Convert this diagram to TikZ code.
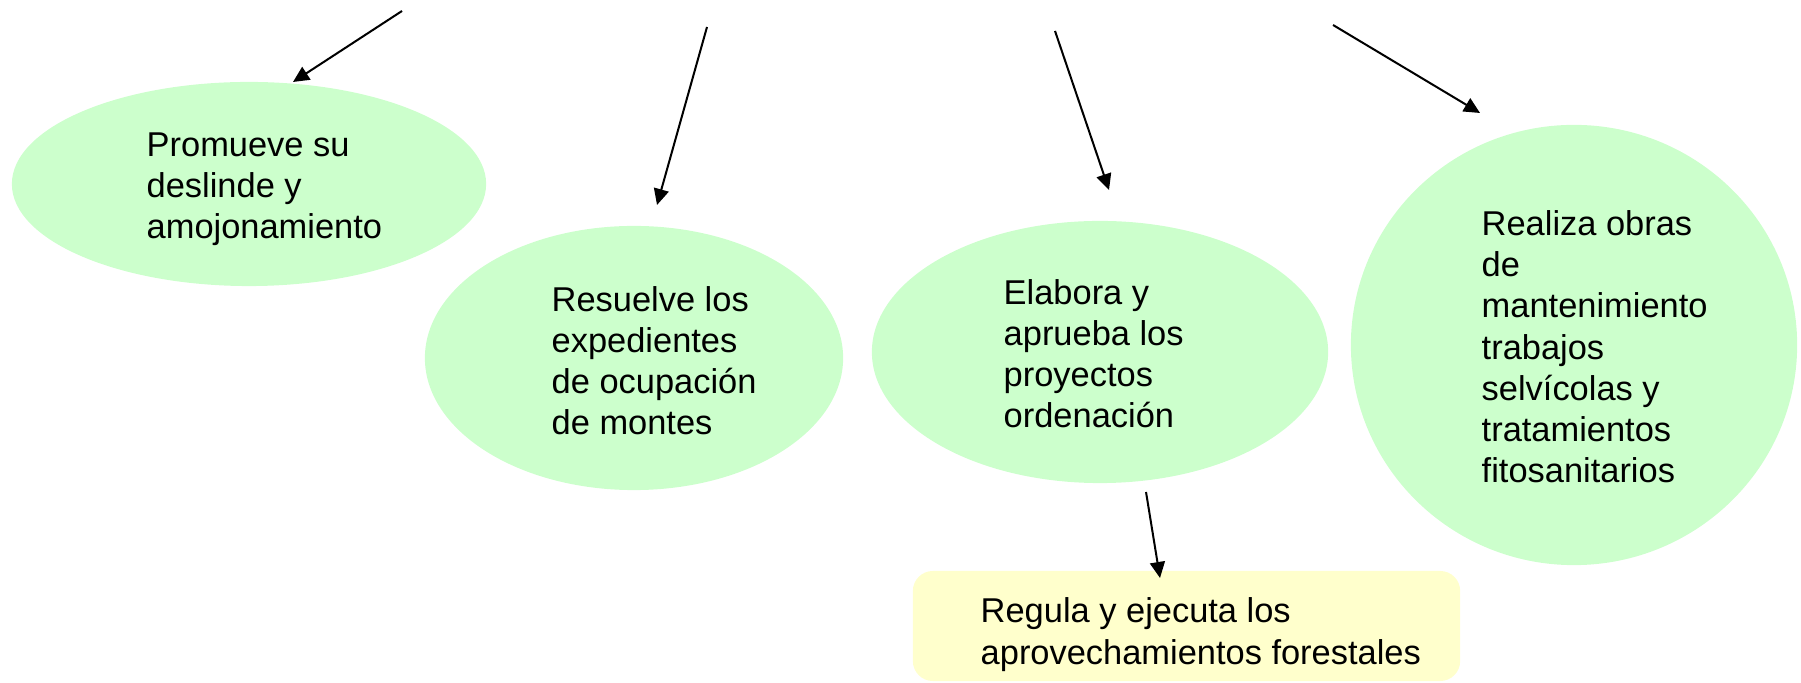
\documentclass[tikz,border=0pt]{standalone}
\usepackage{fontspec}
\setmainfont{Liberation Sans}
\usetikzlibrary{arrows.meta,shapes.geometric}
\definecolor{ellgreen}{RGB}{204,255,204}
\definecolor{boxyellow}{RGB}{255,255,204}
\tikzset{
  bubble/.style={ellipse, fill=ellgreen, draw=none, inner sep=0pt},
  notebox/.style={rectangle, fill=boxyellow, draw=none, rounded corners=0.2cm, inner sep=0pt},
  txt/.style={anchor=base west, align=left, inner sep=0pt, font=\fontsize{9.79pt}{11.75pt}\selectfont},
  arr/.style={line width=0.57pt, -{Triangle[length=0.16cm,width=0.15cm]}},
}
\begin{document}
\begin{tikzpicture}[x=0.01cm,y=-0.01cm]
\useasboundingbox (0,0) rectangle (1801,683);
\node[bubble, minimum width=4.74cm, minimum height=2.04cm] (e1) at (249,184) {};
\node[bubble, minimum width=4.18cm, minimum height=2.64cm] (e2) at (634,358) {};
\node[bubble, minimum width=4.56cm, minimum height=2.62cm] (e3) at (1100,352) {};
\node[bubble, minimum width=4.46cm, minimum height=4.40cm] (e4) at (1574,345) {};
\node[notebox, minimum width=5.47cm, minimum height=1.10cm] (b5) at (1186.5,626) {};
% base anchor = baseline of the last line
\node[txt] (t1) at (146,239) {Promueve su\\deslinde y\\amojonamiento};
\node[txt] (t2) at (551,435) {Resuelve los\\expedientes\\de ocupación\\de montes};
\node[txt] (t3) at (1003,428) {Elabora y\\aprueba los\\proyectos\\ordenación};
\node[txt] (t4) at (1481,483) {Realiza obras\\de\\mantenimiento\\trabajos\\selvícolas y\\tratamientos\\fitosanitarios};
\node[txt] (t5) at (980,664) {Regula y ejecuta los\\aprovechamientos forestales};
\coordinate (a1s) at (402,11);  \coordinate (a1e) at (293,82);
\coordinate (a2s) at (707,27);  \coordinate (a2e) at (657,205);
\coordinate (a3s) at (1055,31); \coordinate (a3e) at (1109,190);
\coordinate (a4s) at (1333,25); \coordinate (a4e) at (1480,113);
\coordinate (a5s) at (1146,492); \coordinate (a5e) at (1160,578);
\draw[arr] (a1s) -- (a1e);
\draw[arr] (a2s) -- (a2e);
\draw[arr] (a3s) -- (a3e);
\draw[arr] (a4s) -- (a4e);
\draw[arr] (a5s) -- (a5e);
\end{tikzpicture}
\end{document}
